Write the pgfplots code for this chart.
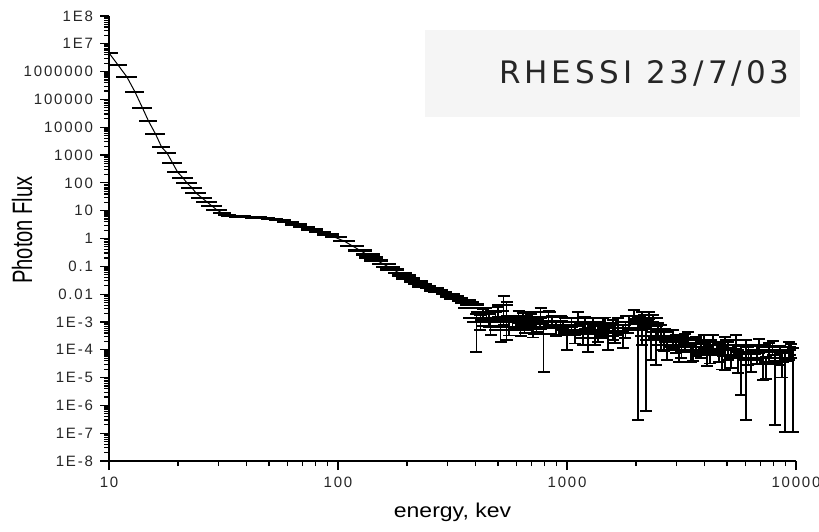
\documentclass[border=0pt]{standalone}
\usepackage{pgfplots}
\usepackage{pgfplotstable}
\usepackage{graphicx}
\usepackage{fontspec}
\setmainfont{Liberation Sans}
\newfontfamily\tickfont[LetterSpace=12]{Liberation Sans}
\newfontfamily\boxfont[LetterSpace=13]{DejaVu Sans}
\pgfplotsset{compat=1.18}
\definecolor{boxgray}{RGB}{245,245,245}

\pgfplotstableread{
E F ex
10.52 4.67e6 0.04
10.95 1.73e6 0.095
11.98 6.40e5 0.106
12.99 1.85e5 0.095
14.01 4.91e4 0.10
14.88 1.67e4 0.09
15.97 5.69e3 0.10
16.97 1.94e3 0.09
17.93 1.18e3 0.095
18.96 515 0.10
19.93 244 0.10
21.07 149 0.105
21.93 98.4 0.105
23.07 65.0 0.105
24.01 43.0 0.105
25.51 28.4 0.105
26.82 20.4 0.105
28.21 14.6 0.105
29.66 10.5 0.105
31.19 8.20 0.09
32.81 6.95 0.09
34.49 6.40 0.11
37.39 6.14 0.11
40.53 5.89 0.11
43.93 5.65 0.11
47.62 5.42 0.11
51.61 4.99 0.11
55.95 4.59 0.11
60.64 3.89 0.11
65.73 3.16 0.11
71.24 2.57 0.11
77.22 2.09 0.11
83.70 1.70 0.11
90.72 1.38 0.11
98.33 1.12 0.11
106.5 0.805 0.11
115.5 0.533 0.12
125.2 0.367 0.12
135.7 0.26 0.12
141.0 0.21 0.12
147.1 0.16 0.12
159.4 0.12 0.12
166.0 0.095 0.12
172.8 0.075 0.12
187.3 0.058 0.12
195.0 0.046 0.12
203.0 0.036 0.12
220.0 0.028 0.12
229.0 0.023 0.12
238.4 0.019 0.12
258.5 0.0165 0.12
270.0 0.0138 0.12
280.2 0.0118 0.12
303.7 0.0100 0.12
316.0 0.0082 0.12
329.1 0.0070 0.12
356.6 0.0058 0.12
370.0 0.0050 0.12
378.9 0.00313 0.12
386.6 0.0042 0.12
}\lowdata

\pgfplotstableread{
E F ex eyp eym
402.5 1.37e-3 0.126 0.644 0.940
419.0 9.83e-4 0.126 0.786 0.485
430 1.9e-3 0.12 0.5 0.5
445.0 2.25e-3 0.147 0.393 0.392
455 1.2e-3 0.13 0.6 0.45
463.4 7.05e-4 0.137 0.940 0.526
487.3 1.37e-3 0.126 0.644 0.282
500 2.5e-3 0.12 0.4 0.4
512.5 5.06e-4 0.105 0.940 0.630
528.2 4.02e-3 0.105 1.108 0.810
544.4 1.16e-3 0.105 3.44 0.810
560 6.5e-4 0.14 0.6 0.5
578.3 9.83e-4 0.126 0.644 0.485
600 1.0e-3 0.15 0.5 0.4
614.3 1.61e-3 0.158 0.513 0.440
626.8 5.06e-4 0.147 0.644 0.392
640 1.4e-3 0.16 0.5 0.45
652.6 6.49e-4 0.158 0.644 0.392
693.1 1.16e-3 0.147 0.644 0.392
710 5.5e-4 0.15 0.7 0.5
736.3 8.32e-4 0.126 0.644 0.485
760 1.0e-3 0.14 0.5 0.45
766.6 2.25e-3 0.168 0.393 0.392
790.1 3.63e-4 0.147 0.786 0.957
831.0 1.49e-3 0.21 0.644 0.485
860 1.1e-3 0.18 0.5 0.45
891.7 5.97e-4 0.147 0.786 0.485
937.6 9.83e-4 0.189 0.644 0.485
960 6.5e-4 0.16 0.6 0.5
996.1 3.34e-4 0.158 1.29 0.711
1047 7.66e-4 0.158 0.786 0.485
1080 4.2e-4 0.15 0.8 0.6
1113 1.37e-3 0.168 0.644 0.485
1170 5.06e-4 0.147 0.940 0.711
1200 1.0e-3 0.16 0.5 0.45
1231 2.61e-4 0.126 1.29 0.687
1294 8.32e-4 0.168 0.644 0.485
1330 3.6e-4 0.14 0.9 0.6
1361 5.06e-4 0.137 0.940 0.630
1431 7.05e-4 0.147 0.940 0.630
1460 9.0e-4 0.15 0.6 0.5
1505 3.08e-4 0.126 0.940 0.687
1582 5.97e-4 0.147 0.940 0.630
1620 4.5e-4 0.15 0.8 0.6
1664 7.66e-4 0.147 0.786 0.563
1750 3.95e-4 0.126 0.940 0.711
1800 6.0e-4 0.14 0.7 0.55
1859 9.83e-4 0.126 0.644 0.485
1955 1.61e-3 0.126 0.644 0.485
2036 5.06e-4 0.105 1.703 0.9994
2080 1.3e-3 0.10 0.3 0.3
2120 1.16e-3 0.126 0.940 0.874
2163 8.32e-4 0.126 0.393 0.282
2207 3.08e-4 0.105 2.19 0.998
2250 1.0e-3 0.10 0.3 0.3
2274 1.75e-3 0.105 0.282 0.282
2321 7.05e-4 0.126 0.940 0.940
2367 1.37e-3 0.105 0.282 0.282
2440 2.21e-4 0.147 1.29 0.874
2500 5.5e-4 0.14 0.7 0.6
2566 4.29e-4 0.147 0.786 0.775
2650 2.6e-4 0.15 0.9 0.65
2726 1.46e-4 0.147 0.786 0.711
2895 3.08e-4 0.158 0.644 0.630
2980 1.9e-4 0.15 0.8 0.6
3076 9.64e-5 0.158 0.940 0.630
3160 1.3e-4 0.16 0.9 0.6
3268 2.21e-4 0.189 0.644 0.563
3380 2.7e-4 0.15 0.6 0.5
3471 8.17e-5 0.147 0.940 0.563
3560 1.0e-4 0.15 0.8 0.6
3651 1.58e-4 0.168 0.786 0.630
3839 1.24e-4 0.147 0.786 0.598
3950 2.3e-4 0.14 0.5 0.5
4078 6.37e-5 0.147 0.786 0.598
4200 8.0e-5 0.15 0.8 0.6
4331 1.87e-4 0.158 0.786 0.563
4603 9.64e-5 0.137 0.786 0.630
4750 6.5e-5 0.14 0.9 0.7
4888 1.46e-4 0.147 0.940 0.874
5050 1.1e-4 0.15 0.7 0.6
5193 5.86e-5 0.126 0.940 0.630
5460 2.21e-4 0.147 0.513 0.711
5600 5.0e-5 0.13 0.9 0.7
5742 8.17e-5 0.105 0.786 0.972
6038 1.34e-4 0.126 0.644 0.9978
6200 7.0e-5 0.14 0.8 0.6
6350 4.21e-5 0.126 1.29 0.630
6745 8.17e-5 0.147 0.786 0.630
6900 1.5e-4 0.13 0.6 0.5
7166 4.97e-5 0.126 0.940 0.838
7400 3.0e-5 0.14 0.9 0.7
7612 9.64e-5 0.147 0.786 0.630
7900 1.3e-4 0.13 0.6 0.5
8085 3.56e-5 0.147 1.29 0.9946
8503 8.17e-5 0.147 0.644 0.659
8700 4.0e-5 0.13 0.9 0.75
8941 4.97e-5 0.12 0.940 0.9978
9311 1.24e-4 0.07 0.513 0.659
9500 1.0e-4 0.05 0.6 0.5
9692 6.37e-5 0.03 0.786 0.9983
}\highdata

\pgfplotstableread{
E F
10.0 4.7e6
10.95 1.73e6
11.98 6.40e5
12.99 1.85e5
14.01 4.91e4
14.88 1.67e4
15.97 5.69e3
16.97 1.94e3
17.93 1.18e3
18.96 515
19.93 244
21.07 149
21.93 98.4
23.07 65.0
24.01 43.0
25.51 28.4
26.82 20.4
28.21 14.6
29.66 10.5
31.19 8.20
32.81 6.95
34.49 6.40
40.53 5.89
47.62 5.42
55.95 4.59
65.73 3.16
77.22 2.09
90.72 1.38
106.5 0.805
125.2 0.367
147.1 0.167
172.8 0.0793
203.0 0.0377
238.4 0.0202
280.2 0.0123
329.1 0.00718
386.6 0.00437
}\modeldata

\def\myminory{1e-8}
\foreach \e in {-8,...,7}{\foreach \m in {2,...,9}{\xdef\myminory{\myminory,\m e\e}}}

\begin{document}
\begin{tikzpicture}
\useasboundingbox (-54.5pt,-35pt) rectangle (355pt,230.5pt);
\begin{axis}[
  at={(0,0)}, anchor=south west,
  scale only axis, width=343.5pt, height=222.5pt,
  xmode=log, ymode=log,
  xmin=10, xmax=10000, ymin=1e-8, ymax=1e8,
  axis x line*=bottom, axis y line*=left,
  axis line style={line width=0.75pt, -},
  tick align=outside,
  major tick length=4.5pt, minor tick length=2.5pt,
  every tick/.style={black, line width=0.6pt},
  xtick={10,100,1000,10000},
  xticklabels={10,100,1000,10000},
  minor xtick={20,30,40,50,60,70,80,90,200,300,400,500,600,700,800,900,2000,3000,4000,5000,6000,7000,8000,9000},
  ytick={1e-8,1e-7,1e-6,1e-5,1e-4,1e-3,0.01,0.1,1,10,100,1000,1e4,1e5,1e6,1e7,1e8},
  yticklabels={1E-8,1E-7,1E-6,1E-5,1E-4,1E-3,0.01,0.1,1,10,100,1000,10000,100000,1000000,1E7,1E8},
  minor ytick/.expand once=\myminory,
  tick label style={font={\fontsize{7.5}{9}\tickfont}, text=black!85},
  /pgf/number format/assume math mode=true,
  xlabel={\scalebox{1.15}[1]{energy, kev}},
  ylabel={\scalebox{0.72}[1]{Photon Flux}},
  xlabel style={font=\fontsize{10}{12}\selectfont, at={(axis description cs:0.5,-0.1146)}, anchor=center},
  ylabel style={font=\fontsize{14}{16}\selectfont, at={(axis description cs:-0.1266,0.519)}, anchor=center},
  clip=false,
]
\fill[boxgray] (rel axis cs:0.46,0.773) rectangle (rel axis cs:1.006,0.9685);
\node[anchor=base west, font={\fontsize{15.5}{17}\boxfont}, text=black!85] at (rel axis cs:0.5575,0.849) {RHESSI 23/7/03};

\addplot[black, line width=0.5pt, mark=none] table[x=E, y=F] {\modeldata};

% horizontal (energy) bars, no caps
\addplot[draw=none, mark=none,
  error bars/.cd,
    x dir=both, x explicit relative,
    error mark=none,
    error bar style={draw=black, line width=1.3pt}]
  table[x=E, y=F, x error=ex] {\lowdata};

\addplot[draw=none, mark=none,
  error bars/.cd,
    x dir=both, x explicit relative,
    error mark=none,
    error bar style={draw=black, line width=1.1pt}]
  table[x=E, y=F, x error=ex] {\highdata};

% vertical (flux) bars with caps
\addplot[draw=none, mark=none,
  error bars/.cd,
    y dir=both, y explicit relative,
    error mark=-,
    error mark options={rotate=90, draw=black, mark size=3pt, line width=0.9pt},
    error bar style={draw=black, line width=0.9pt}]
  table[x=E, y=F, y error plus=eyp, y error minus=eym] {\highdata};
\end{axis}
\end{tikzpicture}
\end{document}
